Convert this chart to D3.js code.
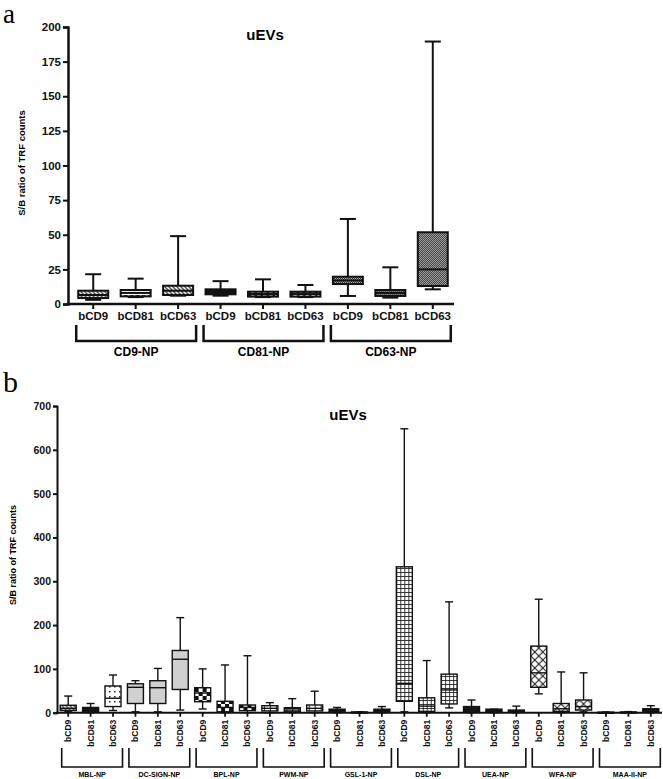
<!DOCTYPE html>
<html>
<head>
<meta charset="utf-8">
<script src="https://cdn.jsdelivr.net/npm/d3@7/dist/d3.min.js"></script>
<style>
  html, body { margin: 0; padding: 0; background: #fff; }
  svg { display: block; font-family: "Liberation Sans", Arial, sans-serif; }
</style>
</head>
<body>
<svg id="chart" width="663" height="779"></svg>
<script>
// ---------- DATA: panel a ----------
const aGroups = ["CD9-NP", "CD81-NP", "CD63-NP"];
const aCats = ["bCD9", "bCD81", "bCD63"];
const aMin = [3, 5, 6, 6, 5, 5, 5.8, 4.6, 10.6];
const aQ1  = [4.3, 5.5, 6.5, 7, 5.3, 5.3, 14.4, 5.8, 13];
const aMed = [6.5, 8, 9.6, 9, 7, 7.5, 17, 8, 25];
const aQ3  = [9.6, 10.1, 13.2, 10.6, 8.9, 8.9, 19.7, 10.1, 51.8];
const aMax = [21.5, 18.3, 49, 16.5, 17.8, 13.7, 61.4, 26.5, 189.5];
const aTicks = [0, 25, 50, 75, 100, 125, 150, 175, 200];

// ---------- DATA: panel b ----------
const bGroups = ["MBL-NP", "DC-SIGN-NP", "BPL-NP", "PWM-NP", "GSL-1-NP", "DSL-NP", "UEA-NP", "WFA-NP", "MAA-II-NP"];
const bCats = ["bCD9", "bCD81", "bCD63"];
const bMin = [2, 0, 5,   2, 2, 6,    8.5, 0, 0,   0, 0, 0,   0, 0, 0,      2, 0, 11,    0, 0, 0,     43, 0, 2,    0, 0, 0];
const bQ1  = [5, 2, 14,  21, 21, 53, 25, 2, 4.6,  4, 2, 4,   2, 0.5, 2,    26, 3, 20,   2, 2, 2,     58, 3, 6,    0.3, 0.5, 2];
const bMed = [10, 7, 33, 58, 57, 122, 45, 12, 12, 10, 6, 10, 5, 1, 5,      67, 15, 52,  8, 4, 3,     91, 9, 14,   0.6, 1, 6];
const bQ3  = [17, 12, 61, 66, 73, 142, 57, 26, 17.6, 16, 11.4, 17.6, 8, 1.5, 8, 333, 34, 88, 14, 8, 6, 152, 21, 29, 1, 1.5, 9];
const bMax = [38, 21, 86, 73, 101, 217, 100, 109, 130, 23, 32, 49, 12, 2, 14, 648, 119, 253, 29, 8, 15, 259, 93, 91, 1.5, 2.5, 16];
const bTicks = [0, 100, 200, 300, 400, 500, 600, 700];

const yLabel = "S/B ratio of TRF counts";
const title = "uEVs";

// ---------- SVG + patterns ----------
const svg = d3.select("#chart");
const defs = svg.append("defs");

function pat(id, w, h, bg, build) {
  const p = defs.append("pattern").attr("id", id).attr("patternUnits", "userSpaceOnUse")
    .attr("width", w).attr("height", h);
  p.append("rect").attr("width", w).attr("height", h).attr("fill", bg);
  build(p);
}
pat("diag", 4, 4, "#fff", p => {
  p.append("path").attr("d", "M0,0L4,4M-1,3L1,5M3,-1L5,1").attr("stroke", "#444").attr("stroke-width", 1.3);
});
pat("hdash", 6, 3, "#fff", p => {
  p.append("rect").attr("x", 0).attr("y", 1).attr("width", 4).attr("height", 1.4).attr("fill", "#333");
});
pat("hdashDark", 6, 3, "#222", p => {
  p.append("rect").attr("x", 0).attr("y", 1).attr("width", 3.5).attr("height", 1).attr("fill", "#ddd");
});
pat("fineDots", 2, 2, "#c8c8c8", p => {
  p.append("rect").attr("x", 0).attr("y", 0).attr("width", 1).attr("height", 1).attr("fill", "#1a1a1a");
  p.append("rect").attr("x", 1).attr("y", 1).attr("width", 1).attr("height", 1).attr("fill", "#1a1a1a");
});
pat("sparseDots", 5, 5, "#fff", p => {
  p.append("rect").attr("x", 1).attr("y", 1).attr("width", 1.5).attr("height", 1.5).attr("fill", "#222");
});
pat("checker", 8, 8, "#fff", p => {
  p.append("rect").attr("x", 0).attr("y", 0).attr("width", 4).attr("height", 4).attr("fill", "#111");
  p.append("rect").attr("x", 4).attr("y", 4).attr("width", 4).attr("height", 4).attr("fill", "#111");
});
pat("wideGrid", 6, 6, "#fff", p => {
  p.append("path").attr("d", "M0,0.5H6M0.5,0V6").attr("stroke", "#222").attr("stroke-width", 1.2);
});
pat("grid", 4, 4, "#fff", p => {
  p.append("path").attr("d", "M0,0.5H4M0.5,0V4").attr("stroke", "#222").attr("stroke-width", 0.9);
});
pat("lattice", 8, 8, "#fff", p => {
  p.append("path").attr("d", "M0,0L8,8M8,0L0,8").attr("stroke", "#222").attr("stroke-width", 1.1);
});

// fill styles (by position, kept apart from the data)
const aFills = ["url(#diag)", "url(#hdash)", "url(#diag)",
                "#151515", "url(#hdashDark)", "url(#hdashDark)",
                "url(#fineDots)", "url(#fineDots)", "url(#fineDots)"];
const bGroupFill = ["mbl", "#d0d0d0", "url(#checker)", "url(#wideGrid)", "#1a1a1a",
                    "url(#grid)", "#1a1a1a", "url(#lattice)", "#1a1a1a"];
function bFill(i) {
  const g = Math.floor(i / 3);
  if (bGroupFill[g] === "mbl") return ["url(#diag)", "#151515", "url(#sparseDots)"][i % 3];
  return bGroupFill[g];
}

// ---------- generic box drawing ----------
function drawBoxes(g, keys, x, y, mins, q1s, meds, q3s, maxs, fills, boxW, capW, sw) {
  const data = keys.map((k, i) => ({ k, i, min: mins[i], q1: q1s[i], med: meds[i], q3: q3s[i], max: maxs[i] }));
  const item = g.selectAll("g.box").data(data).join("g").attr("class", "box")
    .attr("transform", d => `translate(${x(d.k) + x.bandwidth() / 2},0)`);
  item.append("line").attr("x1", 0).attr("x2", 0).attr("y1", d => y(d.max)).attr("y2", d => y(d.q3))
    .attr("stroke", "#111").attr("stroke-width", sw);
  item.append("line").attr("x1", 0).attr("x2", 0).attr("y1", d => y(d.q1)).attr("y2", d => y(d.min))
    .attr("stroke", "#111").attr("stroke-width", sw);
  item.append("line").attr("x1", -capW / 2).attr("x2", capW / 2).attr("y1", d => y(d.max)).attr("y2", d => y(d.max))
    .attr("stroke", "#111").attr("stroke-width", sw);
  item.append("line").attr("x1", -capW / 2).attr("x2", capW / 2).attr("y1", d => y(d.min)).attr("y2", d => y(d.min))
    .attr("stroke", "#111").attr("stroke-width", sw);
  item.append("rect").attr("x", -boxW / 2).attr("width", boxW)
    .attr("y", d => y(d.q3)).attr("height", d => Math.max(1, y(d.q1) - y(d.q3)))
    .attr("fill", d => fills(d.i)).attr("stroke", "#111").attr("stroke-width", sw);
  item.append("line").attr("x1", -boxW / 2).attr("x2", boxW / 2).attr("y1", d => y(d.med)).attr("y2", d => y(d.med))
    .attr("stroke", "#111").attr("stroke-width", sw);
}

// ---------- PANEL A ----------
(function () {
  const keysA = [];
  aGroups.forEach(g => aCats.forEach(c => keysA.push(g + "|" + c)));
  const left = 68, x0 = 72, x1 = 454, yTop = 27, yBot = 304;
  const x = d3.scaleBand().domain(keysA).range([x0, x1]).padding(0);
  const y = d3.scaleLinear().domain([0, 200]).range([yBot, yTop]);
  const g = svg.append("g");

  svg.append("text").attr("x", 3).attr("y", 23).attr("font-family", "'Liberation Serif', 'DejaVu Serif', serif")
    .attr("font-size", 27).text("a");

  // y axis
  const ya = g.append("g").attr("transform", `translate(${left},0)`)
    .call(d3.axisLeft(y).tickValues(aTicks).tickSize(5).tickPadding(2));
  ya.select(".domain").attr("stroke-width", 2.5).attr("stroke", "#111");
  ya.selectAll(".tick line").attr("stroke-width", 2).attr("stroke", "#111");
  ya.selectAll(".tick text").attr("font-size", 11.5).attr("font-weight", "bold")
    .attr("font-family", "'Liberation Sans', Arial, sans-serif").attr("fill", "#111");

  // x axis
  const xa = g.append("g").attr("transform", `translate(0,${yBot})`)
    .call(d3.axisBottom(x).tickSize(5).tickPadding(3).tickFormat(k => k.split("|")[1]));
  xa.select(".domain").remove();
  xa.selectAll(".tick line").attr("stroke-width", 2).attr("stroke", "#111");
  xa.selectAll(".tick text").attr("font-size", 11.5).attr("font-weight", "bold")
    .attr("font-family", "'Liberation Sans', Arial, sans-serif").attr("fill", "#111");
  g.append("line").attr("x1", left - 1).attr("x2", x1).attr("y1", yBot).attr("y2", yBot)
    .attr("stroke", "#111").attr("stroke-width", 2.5);

  drawBoxes(g.append("g"), keysA, x, y, aMin, aQ1, aMed, aQ3, aMax, i => aFills[i], 30, 16, 2);

  // brackets
  aGroups.forEach((grp, gi) => {
    const c1 = x(grp + "|" + aCats[0]) + x.bandwidth() / 2;
    const c3 = x(grp + "|" + aCats[2]) + x.bandwidth() / 2;
    const l = c1 - 17, r = c3 + 18;
    g.append("path").attr("d", `M${l},325V341H${r}V325`).attr("fill", "none")
      .attr("stroke", "#111").attr("stroke-width", 2.5);
    g.append("text").attr("x", (l + r) / 2).attr("y", 356).attr("text-anchor", "middle")
      .attr("font-size", 12).attr("font-weight", "bold").text(grp);
  });

  g.append("text").attr("x", 265).attr("y", 40).attr("text-anchor", "middle")
    .attr("font-size", 15).attr("font-weight", "bold").text(title);
  g.append("text").attr("transform", `translate(25,163) rotate(-90)`).attr("text-anchor", "middle")
    .attr("font-size", 9.5).attr("font-weight", "bold").text(yLabel);
})();

// ---------- PANEL B ----------
(function () {
  const keysB = [];
  bGroups.forEach(g => bCats.forEach(c => keysB.push(g + "|" + c)));
  const left = 57, x1 = 662, yTop = 406, yBot = 712.7;
  const x = d3.scaleBand().domain(keysB).range([left, x1]).padding(0);
  const y = d3.scaleLinear().domain([0, 700]).range([yBot, yTop]);
  const g = svg.append("g");

  svg.append("text").attr("x", 3).attr("y", 392).attr("font-family", "'Liberation Serif', 'DejaVu Serif', serif")
    .attr("font-size", 30).text("b");

  const ya = g.append("g").attr("transform", `translate(${left},0)`)
    .call(d3.axisLeft(y).tickValues(bTicks).tickSize(4).tickPadding(2));
  ya.select(".domain").attr("stroke-width", 2).attr("stroke", "#111");
  ya.selectAll(".tick line").attr("stroke-width", 2).attr("stroke", "#111");
  ya.selectAll(".tick text").attr("font-size", 10.5).attr("font-weight", "bold")
    .attr("font-family", "'Liberation Sans', Arial, sans-serif").attr("fill", "#111");

  const xa = g.append("g").attr("transform", `translate(0,${yBot})`)
    .call(d3.axisBottom(x).tickSize(4).tickFormat(""));
  xa.select(".domain").remove();
  xa.selectAll(".tick line").attr("stroke-width", 1.8).attr("stroke", "#111");
  xa.selectAll(".tick").append("text")
    .attr("transform", "translate(3,7) rotate(-90)").attr("text-anchor", "end")
    .attr("font-size", 8.5).attr("font-weight", "bold").attr("fill", "#111")
    .attr("font-family", "'Liberation Sans', Arial, sans-serif")
    .text(k => k.split("|")[1]);

  drawBoxes(g.append("g"), keysB, x, y, bMin, bQ1, bMed, bQ3, bMax, bFill, 16, 8, 1.4);

  g.append("line").attr("x1", left - 1).attr("x2", x1).attr("y1", yBot).attr("y2", yBot)
    .attr("stroke", "#111").attr("stroke-width", 2);

  bGroups.forEach((grp) => {
    const c1 = x(grp + "|" + bCats[0]) + x.bandwidth() / 2;
    const c3 = x(grp + "|" + bCats[2]) + x.bandwidth() / 2;
    const l = c1 - 6.5, r = c3 + 9.5;
    g.append("path").attr("d", `M${l},748V767H${r}V748`).attr("fill", "none")
      .attr("stroke", "#111").attr("stroke-width", 1.6);
    g.append("text").attr("x", (l + r) / 2).attr("y", 777).attr("text-anchor", "middle")
      .attr("font-size", 7).attr("font-weight", "bold").text(grp);
  });

  g.append("text").attr("x", 348).attr("y", 420).attr("text-anchor", "middle")
    .attr("font-size", 15).attr("font-weight", "bold").text(title);
  g.append("text").attr("transform", `translate(16,555) rotate(-90)`).attr("text-anchor", "middle")
    .attr("font-size", 9).attr("font-weight", "bold").text(yLabel);
})();
</script>
</body>
</html>
